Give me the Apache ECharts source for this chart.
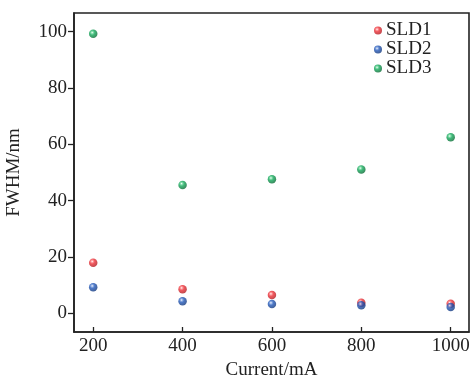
<!DOCTYPE html>
<html>
<head>
<meta charset="utf-8">
<script src="https://cdn.jsdelivr.net/npm/echarts@6/dist/echarts.min.js"></script>
<style>html,body{margin:0;padding:0;background:#fff}#c{width:472px;height:377px}</style>
</head>
<body>
<div id="c"></div>
<script>
var currents = [200, 400, 600, 800, 1000];
var sld1 = [18.0, 8.6, 6.5, 3.8, 3.4];
var sld2 = [9.3, 4.3, 3.3, 2.9, 2.3];
var sld3 = [99.2, 45.6, 47.6, 51.1, 62.5];
var xTicks = [200, 400, 600, 800, 1000];
var yTicks = [0, 20, 40, 60, 80, 100];
var seriesNames = ['SLD1', 'SLD2', 'SLD3'];
var seriesColors = [['#ff8a8c', '#ec2f36', '#b51d22'], ['#7fa2e0', '#2157b8', '#143a80'], ['#74dba0', '#12a85a', '#0a6e36']];

var FONT = 'Liberation Serif';
function ball(c) {
  return new echarts.graphic.RadialGradient(0.38, 0.35, 0.65, [
    {offset: 0, color: '#ffffff'},
    {offset: 0.18, color: c[0]},
    {offset: 0.45, color: c[1]},
    {offset: 1, color: c[2]}
  ]);
}
var datasets = [sld1, sld2, sld3];
var series = seriesNames.map(function (n, i) {
  return {
    name: n, type: 'scatter', symbol: 'circle', symbolSize: 8.5,
    itemStyle: {color: ball(seriesColors[i])},
    data: currents.map(function (x, j) { return [x, datasets[i][j]]; })
  };
});
var chart = echarts.init(document.getElementById('c'), null, {renderer: 'canvas'});
chart.setOption({
  backgroundColor: '#fff',
  animation: false,
  grid: {left: 74, right: 3, top: 13, bottom: 45, show: true, borderColor: '#222', borderWidth: 1.6,
         backgroundColor: 'transparent', outerBoundsMode: 'none', containLabel: false},
  legend: {
    orient: 'vertical', left: 369, top: 16, itemWidth: 8, itemHeight: 8, itemGap: 0,
    icon: 'circle',
    data: seriesNames.map(function (n, i) { return {name: n, itemStyle: {color: ball(seriesColors[i])}}; }),
    textStyle: {fontFamily: FONT, fontSize: 19, color: '#222', lineHeight: 18.5, padding: [0, 0, 0, -1]}
  },
  xAxis: {
    type: 'value', min: 157, max: 1041,
    name: 'Current/mA', nameLocation: 'middle', nameGap: 28,
    nameTextStyle: {fontFamily: FONT, fontSize: 19, color: '#222'},
    axisLine: {show: true, onZero: false, lineStyle: {color: '#222', width: 1.6}},
    axisTick: {show: true, inside: true, length: 5, customValues: xTicks, lineStyle: {color: '#222', width: 1.3}},
    axisLabel: {customValues: xTicks, formatter: function (v) { return String(v); }, fontFamily: FONT, fontSize: 19, color: '#222', margin: 5},
    splitLine: {show: false}
  },
  yAxis: {
    type: 'value', min: -6.6, max: 106.6,
    name: 'FWHM/nm', nameLocation: 'middle', nameGap: 50, nameRotate: 90,
    nameTextStyle: {fontFamily: FONT, fontSize: 19, color: '#222'},
    axisLine: {show: true, onZero: false, lineStyle: {color: '#222', width: 1.6}},
    axisTick: {show: true, inside: false, length: 6, customValues: yTicks, lineStyle: {color: '#222', width: 1.3}},
    axisLabel: {customValues: yTicks, formatter: function (v) { return String(v); }, fontFamily: FONT, fontSize: 19, color: '#222', margin: 7},
    splitLine: {show: false}
  },
  series: series
});
</script>
</body>
</html>
